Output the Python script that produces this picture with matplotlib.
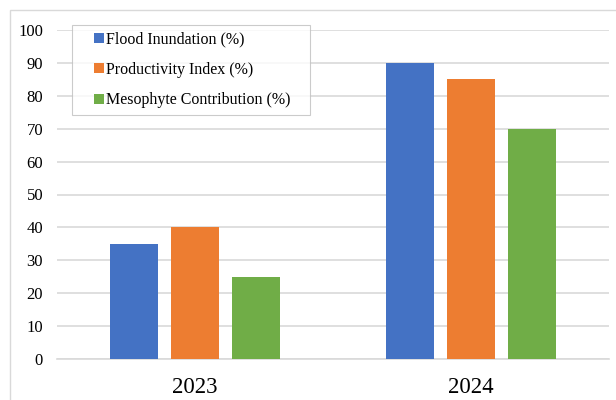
import matplotlib
matplotlib.use("Agg")
import matplotlib.pyplot as plt
from matplotlib.patches import Rectangle
from matplotlib.legend_handler import HandlerPatch
import numpy as np

categories = ["2023", "2024"]
series_names = ["Flood Inundation (%)", "Productivity Index (%)", "Mesophyte Contribution (%)"]
flood = [35, 90]
productivity = [40, 85]
mesophyte = [25, 70]
colors = ["#4472C4", "#ED7D31", "#70AD47"]

plt.rcParams['font.family'] = ['Liberation Serif', 'DejaVu Serif']

W, H = 616, 400
fig = plt.figure(figsize=(W/100, H/100), dpi=100)
fig.patches.append(Rectangle((10/W, -0.1), 1.2, 1 - 10/H + 0.1, transform=fig.transFigure,
                             fill=False, edgecolor="#D9D9D9", linewidth=1.0))

ax = fig.add_axes([57/W, 1 - 359/H, (609-57)/W, (359-30)/H])
x = np.arange(len(categories))
bw = 0.174
step = 0.221
for i, (vals, name, c) in enumerate(zip([flood, productivity, mesophyte], series_names, colors)):
    ax.bar(x + (i-1)*step, vals, width=bw, color=c, label=name, zorder=3)

ax.set_xlim(-0.5, 1.5)
ax.set_ylim(0, 100)
ax.set_yticks(range(0, 101, 10))
ax.set_xticks(x)
ax.set_xticklabels(categories, fontsize=16.5)
ax.tick_params(axis='y', labelsize=12, length=0, pad=10)
ax.tick_params(axis='x', length=0, pad=13)
ax.grid(axis='y', color="#D9D9D9", linewidth=1.2, zorder=0)
for s in ['top', 'right', 'left']:
    ax.spines[s].set_visible(False)
ax.spines['bottom'].set_color("#D9D9D9")
ax.spines['bottom'].set_linewidth(1.2)
ax.set_axisbelow(True)


class RightSquare(HandlerPatch):
    def create_artists(self, legend, orig_handle, xdescent, ydescent, width, height, fontsize, trans):
        s = 7.2
        p = Rectangle((width - s - xdescent, -ydescent + (height - s) / 2), s, s,
                      facecolor=orig_handle.get_facecolor(), edgecolor='none', transform=trans)
        return [p]


handles = [Rectangle((0, 0), 1, 1, facecolor=c, edgecolor='none') for c in colors]
leg = ax.legend(handles, series_names, loc='upper left',
                bbox_to_anchor=(72/W, 1 - 115/H, 238/W, 90/H), bbox_transform=fig.transFigure,
                mode='expand',
                fontsize=11.5, frameon=True, fancybox=False, edgecolor="#BFBFBF",
                handlelength=1.6, handleheight=0.7, handletextpad=0.1, labelspacing=0.9,
                borderpad=0.4, borderaxespad=0,
                handler_map={Rectangle: RightSquare()})
leg.get_frame().set_linewidth(0.8)
leg.set_zorder(5)

fig.savefig("out.png", dpi=100)
